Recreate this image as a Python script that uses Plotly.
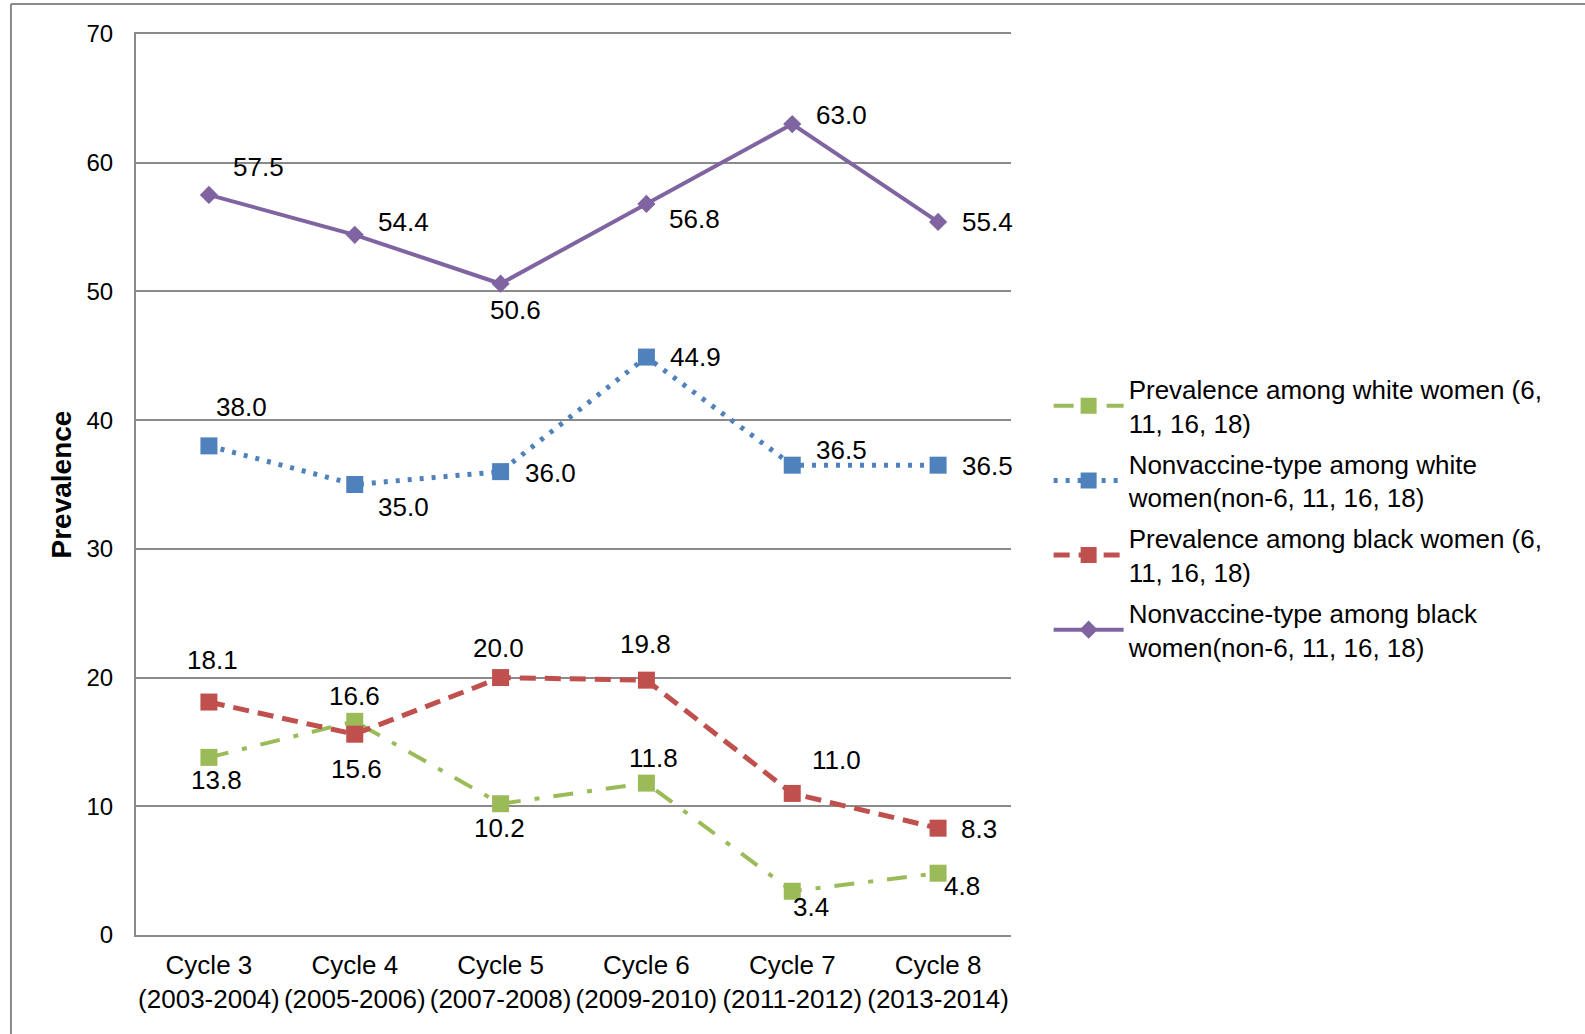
import plotly.graph_objects as go

categories = ["Cycle 3<br>(2003-2004)", "Cycle 4<br>(2005-2006)", "Cycle 5<br>(2007-2008)",
              "Cycle 6<br>(2009-2010)", "Cycle 7<br>(2011-2012)", "Cycle 8<br>(2013-2014)"]

white_vaccine = [13.8, 16.6, 10.2, 11.8, 3.4, 4.8]
white_nonvaccine = [38.0, 35.0, 36.0, 44.9, 36.5, 36.5]
black_vaccine = [18.1, 15.6, 20.0, 19.8, 11.0, 8.3]
black_nonvaccine = [57.5, 54.4, 50.6, 56.8, 63.0, 55.4]

series_names = [
    "Prevalence among white women (6,<br>11, 16, 18)",
    "Nonvaccine-type among white<br>women(non-6, 11, 16, 18)",
    "Prevalence among black women (6,<br>11, 16, 18)",
    "Nonvaccine-type among black<br>women(non-6, 11, 16, 18)",
]

y_ticks = [0, 10, 20, 30, 40, 50, 60, 70]
y_title = "Prevalence"

# styling (not data)
FONT = "Liberation Sans, Arial, sans-serif"
styles = [
    dict(color="#9BBB59", dash="20px,14px,5px,14px", width=4, symbol="square", size=17),
    dict(color="#4F81BD", dash="4px,8px", width=5, symbol="square", size=17),
    dict(color="#C0504D", dash="16px,9px", width=5, symbol="square", size=17),
    dict(color="#8064A2", dash="solid", width=4, symbol="diamond", size=14),
]
label_shifts = [
    [(8, -23), (0, 25), (-1, -24), (7, 25), (19, -16), (24, -13)],
    [(33, 39), (49, -22), (50, -1), (49, 0), (49, 15), (49, -1)],
    [(4, 42), (2, -35), (-2, 30), (-1, 36), (44, 33), (41, -1)],
    [(50, 28), (49, 13), (15, -26), (48, -15), (49, 9), (49, 0)],
]

all_series = [white_vaccine, white_nonvaccine, black_vaccine, black_nonvaccine]

fig = go.Figure()
annotations = []
for name, vals, st, shifts in zip(series_names, all_series, styles, label_shifts):
    fig.add_trace(go.Scatter(
        x=categories, y=vals, name=name, mode="lines+markers",
        line=dict(color=st["color"], dash=st["dash"], width=st["width"]),
        marker=dict(symbol=st["symbol"], size=st["size"], color=st["color"]),
        legendgroup=name,
    ))
    for c, v, (dx, dy) in zip(categories, vals, shifts):
        annotations.append(dict(
            x=c, y=v, text=f"{v:.1f}", showarrow=False, xshift=dx, yshift=dy,
            font=dict(family=FONT, size=26, color="#000000"),
        ))

# y-axis title
annotations.append(dict(
    xref="paper", yref="paper", x=-0.0846, y=0.5, xanchor="center", yanchor="middle",
    text=f"<b>{y_title}</b>", textangle=-90, showarrow=False,
    font=dict(family=FONT, size=28, color="#000000"),
))

# outer frame fragments (top and left edges of the original figure box)
shapes = [
    dict(type="line", xref="paper", yref="paper", x0=-0.1429, x1=1.66, y0=1.0333, y1=1.0333,
         line=dict(color="#8a8a8a", width=2)),
    dict(type="line", xref="paper", yref="paper", x0=-0.1429, x1=-0.1429, y0=1.0333, y1=-0.12,
         line=dict(color="#8a8a8a", width=2)),
]

fig.update_layout(
    width=1585, height=1034,
    margin=dict(l=136, r=574, t=34, b=99, autoexpand=False),
    paper_bgcolor="white", plot_bgcolor="white",
    font=dict(family=FONT, size=26, color="#000000"),
    showlegend=True,
    legend=dict(x=1.043, y=0.632, xanchor="left", yanchor="top",
                font=dict(family=FONT, size=26, color="#000000"),
                tracegroupgap=4, itemwidth=70, bgcolor="rgba(0,0,0,0)"),
    annotations=annotations,
    shapes=shapes,
)
fig.update_xaxes(
    type="category", range=[-0.5, 5.5], showgrid=False,
    showline=True, linecolor="#8a8a8a", linewidth=2, mirror=True, automargin=False,
    tickfont=dict(family=FONT, size=26), tickangle=0, ticks="", ticklabelstandoff=6,
)
fig.update_yaxes(
    range=[0, 70], tickvals=y_ticks, showgrid=True, gridcolor="#8a8a8a", gridwidth=2,
    showline=True, linecolor="#8a8a8a", linewidth=2, zeroline=False, automargin=False,
    tickfont=dict(family=FONT, size=24), ticks="", ticklabelstandoff=16,
)

fig.write_html("out.html", config={"displayModeBar": False},
               post_script="document.body.style.margin='0';document.body.style.overflow='hidden';")
